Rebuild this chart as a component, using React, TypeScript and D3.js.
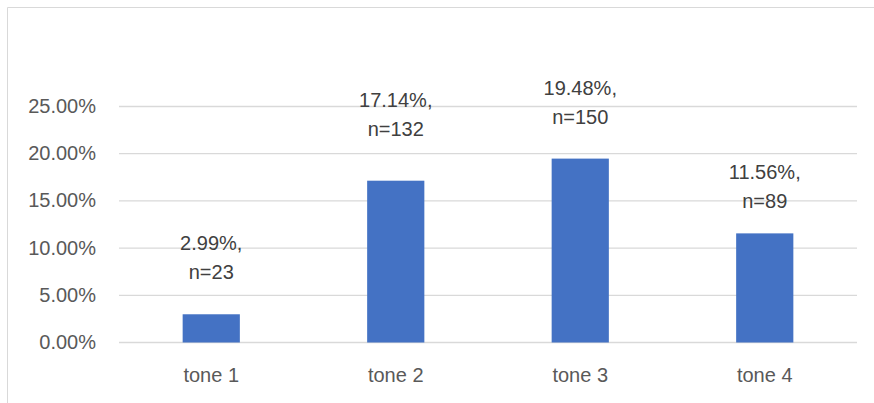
import React from "react";
import * as d3 from "d3";

// Share of each tone, in percent, and its count
const categories = ["tone 1", "tone 2", "tone 3", "tone 4"];
const shares = [2.99, 17.14, 19.48, 11.56];
const counts = [23, 132, 150, 89];
const yTicks = [0, 5, 10, 15, 20, 25];

// Gap (px) between each label's lower line and the top of its bar
const labelGaps = [35, 45, 35, 25];

const W = 874;
const H = 403;
const plot = { left: 119, right: 857, top: 106.5, bottom: 342.5 };
const FONT = "'Liberation Sans', Arial, sans-serif";

export default function App() {
  const x = d3
    .scaleBand<string>()
    .domain(categories)
    .range([plot.left, plot.right])
    .paddingInner(0.69)
    .paddingOuter(0.345);
  const y = d3.scaleLinear().domain([0, 25]).range([plot.bottom, plot.top]);
  const fmt = (v: number) => v.toFixed(2) + "%";

  return (
    <svg
      width={W}
      height={H}
      viewBox={`0 0 ${W} ${H}`}
      style={{ position: "absolute", left: 0, top: 0, background: "#fff" }}
    >
      {/* chart frame (top and left edges) */}
      <line x1={7.5} x2={W} y1={7.5} y2={7.5} stroke="#d9d9d9" strokeWidth={1} />
      <line x1={7.5} x2={7.5} y1={7.5} y2={H} stroke="#d9d9d9" strokeWidth={1} />

      {/* gridlines and y tick labels */}
      {yTicks.map((t) => (
        <g key={t}>
          <line
            x1={plot.left}
            x2={plot.right}
            y1={y(t)}
            y2={y(t)}
            stroke="#d9d9d9"
            strokeWidth={1.3}
          />
          <text
            x={96}
            y={y(t) + 6.5}
            textAnchor="end"
            fontFamily={FONT}
            fontSize={20}
            fill="#595959"
          >
            {fmt(t)}
          </text>
        </g>
      ))}

      {/* bars */}
      {categories.map((c, i) => (
        <rect
          key={c}
          x={x(c)}
          y={y(shares[i])}
          width={x.bandwidth()}
          height={y(0) - y(shares[i])}
          fill="#4472c4"
        />
      ))}

      {/* data labels */}
      {categories.map((c, i) => {
        const cx = (x(c) as number) + x.bandwidth() / 2;
        const base = y(shares[i]) - labelGaps[i];
        return (
          <text
            key={c}
            textAnchor="middle"
            fontFamily={FONT}
            fontSize={20}
            fill="#404040"
          >
            <tspan x={cx} y={base - 29}>
              {fmt(shares[i])},
            </tspan>
            <tspan x={cx} y={base}>
              n={counts[i]}
            </tspan>
          </text>
        );
      })}

      {/* category labels */}
      {categories.map((c) => (
        <text
          key={c}
          x={(x(c) as number) + x.bandwidth() / 2}
          y={381.5}
          textAnchor="middle"
          fontFamily={FONT}
          fontSize={20}
          fill="#595959"
        >
          {c}
        </text>
      ))}
    </svg>
  );
}
